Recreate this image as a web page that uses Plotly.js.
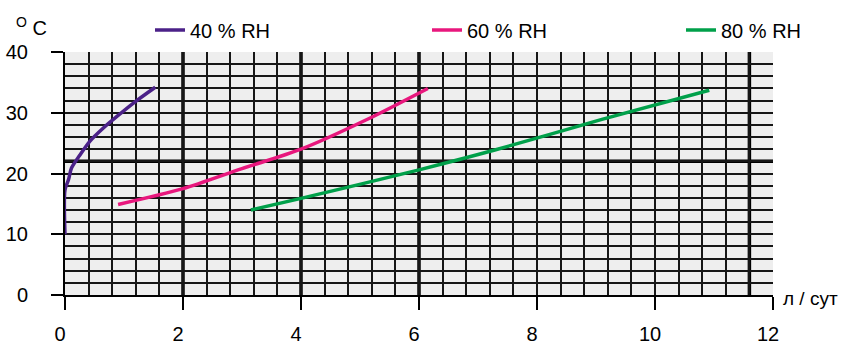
<!DOCTYPE html>
<html>
<head>
<meta charset="utf-8">
<script src="https://cdn.plot.ly/plotly-3.0.1.min.js"></script>
<style>html,body{margin:0;padding:0;background:#fff;}#chart{width:847px;height:345px;}</style>
</head>
<body>
<div id="chart"></div>
<script>
// Series: water yield (л / сут) vs temperature (°C) at relative humidity
const rh40_x = [0, 0, 0.06, 0.11, 0.25, 0.42, 0.65, 0.88, 1.16, 1.53];
const rh40_y = [10, 17.3, 19.0, 20.9, 23.0, 25.3, 27.5, 29.4, 31.6, 34.2];
const rh60_x = [0.9, 2.0, 3.0, 4.0, 5.1, 6.15];
const rh60_y = [14.9, 17.5, 20.8, 24.0, 28.8, 34.0];
const rh80_x = [3.15, 4.0, 6.0, 7.3, 9.1, 10.92];
const rh80_y = [14.0, 15.9, 20.6, 23.9, 28.9, 33.7];
const seriesNames = ['40 % RH', '60 % RH', '80 % RH'];
const xTicks = [0, 2, 4, 6, 8, 10, 12];
const yTicks = [0, 10, 20, 30, 40];
const thickX = [2, 4, 6, 11.6];
const thickY = [22];

const FONT = 'Liberation Sans, Arial, sans-serif';
const FS = 20;
const colors = ['#4b2188', '#e8177d', '#00a04a'];

const traces = [
  {x: rh40_x, y: rh40_y, name: seriesNames[0], legend: 'legend'},
  {x: rh60_x, y: rh60_y, name: seriesNames[1], legend: 'legend2'},
  {x: rh80_x, y: rh80_y, name: seriesNames[2], legend: 'legend3'}
].map((t, i) => Object.assign(t, {
  type: 'scatter', mode: 'lines',
  line: {color: colors[i], width: 3.5, shape: 'spline', smoothing: 0.8},
  hoverinfo: 'skip'
}));

const shapes = [];
thickX.forEach(v => shapes.push({type: 'line', xref: 'x', yref: 'paper', x0: v, x1: v, y0: 0, y1: 1, layer: 'between', line: {color: '#000', width: 3.5}}));
thickY.forEach(v => shapes.push({type: 'line', xref: 'paper', yref: 'y', x0: 0, x1: 1, y0: v, y1: v, layer: 'between', line: {color: '#000', width: 3.5}}));

function leg(px) {
  return {x: px / 847, xref: 'container', xanchor: 'left', y: 1 - 30 / 345, yref: 'container', yanchor: 'middle',
    bgcolor: 'rgba(0,0,0,0)', borderwidth: 0, itemwidth: 30, font: {family: FONT, size: FS, color: '#000'}};
}

const layout = {
  width: 847, height: 345,
  margin: {l: 65, r: 74, t: 52, b: 50, autoexpand: false},
  paper_bgcolor: '#fff', plot_bgcolor: '#eeeeee',
  font: {family: FONT, size: FS, color: '#000'},
  showlegend: true,
  legend: leg(150), legend2: leg(427), legend3: leg(681),
  xaxis: {
    range: [0, 12], tickvals: xTicks, ticktext: xTicks.map(String), automargin: false,
    ticks: 'outside', ticklen: 13, tickwidth: 2, tickcolor: '#000',
    showgrid: true, gridcolor: '#161616', gridwidth: 2, zeroline: false,
    showline: true, linecolor: '#000', linewidth: 2,
    minor: {dtick: 0.4, tick0: 0, showgrid: true, gridcolor: '#161616', gridwidth: 2, ticks: ''},
    ticklabelstandoff: 7, ticklabelshift: -5,
    tickfont: {family: FONT, size: FS, color: '#000'}, fixedrange: true
  },
  yaxis: {
    range: [0, 40], tickvals: yTicks, ticktext: yTicks.map(String), automargin: false,
    ticks: 'outside', ticklen: 12, tickwidth: 2, tickcolor: '#000',
    showgrid: true, gridcolor: '#161616', gridwidth: 2, zeroline: false,
    showline: true, linecolor: '#000', linewidth: 2,
    minor: {dtick: 2, tick0: 0, showgrid: true, gridcolor: '#161616', gridwidth: 2, ticks: ''},
    ticklabelstandoff: 19,
    tickfont: {family: FONT, size: FS, color: '#000'}, fixedrange: true
  },
  shapes: shapes,
  annotations: [
    {xref: 'paper', yref: 'paper', x: -51 / 708, y: (295 - 27) / 243, xanchor: 'left', yanchor: 'middle',
      text: '<sup>O</sup> C', showarrow: false, font: {family: FONT, size: FS, color: '#000'}},
    {xref: 'paper', yref: 'paper', x: (781 - 65) / 708, y: (295 - 298) / 243, xanchor: 'left', yanchor: 'middle',
      text: 'л / сут', showarrow: false, font: {family: FONT, size: 19, color: '#000'}}
  ]
};

Plotly.newPlot('chart', traces, layout, {displayModeBar: false, staticPlot: true});
</script>
</body>
</html>
